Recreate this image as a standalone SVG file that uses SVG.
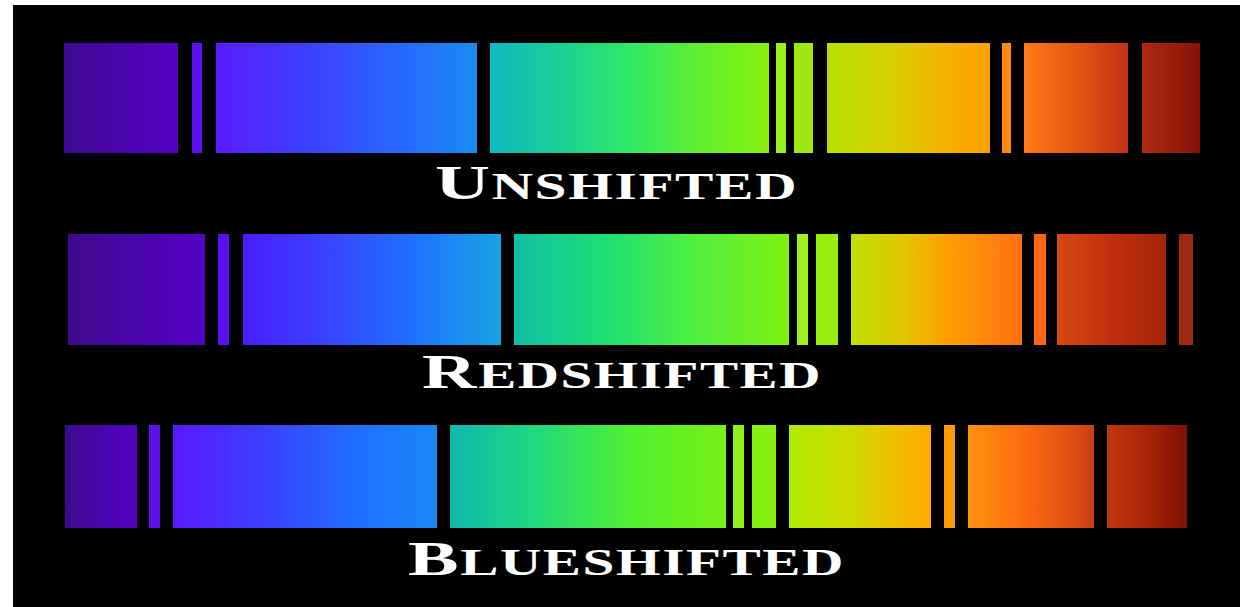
<svg xmlns="http://www.w3.org/2000/svg" width="1240" height="607" viewBox="0 0 1240 607">
<style>
.lbl{font-family:"Liberation Serif","Times New Roman",serif;font-weight:bold;fill:#ffffff;letter-spacing:1px}
.big{font-size:49px}
.sm{font-size:37px}
</style>
<defs>
<linearGradient id="v1"><stop offset="0" stop-color="#3e0a8e"/><stop offset="1" stop-color="#5402c4"/></linearGradient>
<linearGradient id="bl1"><stop offset="0" stop-color="#5a1cff"/><stop offset="0.35" stop-color="#3c40ff"/><stop offset="0.7" stop-color="#2868ff"/><stop offset="1" stop-color="#1a8cf0"/></linearGradient>
<linearGradient id="tg1"><stop offset="0" stop-color="#10b8c0"/><stop offset="0.25" stop-color="#1cd096"/><stop offset="0.5" stop-color="#30e866"/><stop offset="0.75" stop-color="#60f030"/><stop offset="1" stop-color="#8af010"/></linearGradient>
<linearGradient id="yo1"><stop offset="0" stop-color="#b8e000"/><stop offset="0.4" stop-color="#d8d000"/><stop offset="0.75" stop-color="#f4b000"/><stop offset="1" stop-color="#ffa000"/></linearGradient>
<linearGradient id="or1"><stop offset="0" stop-color="#ff7a18"/><stop offset="0.5" stop-color="#e05810"/><stop offset="1" stop-color="#c43018"/></linearGradient>
<linearGradient id="rd1"><stop offset="0" stop-color="#b02a10"/><stop offset="1" stop-color="#841208"/></linearGradient>

<linearGradient id="bl2"><stop offset="0" stop-color="#4a1cff"/><stop offset="0.3" stop-color="#3a40ff"/><stop offset="0.65" stop-color="#2070ff"/><stop offset="1" stop-color="#16a4e4"/></linearGradient>
<linearGradient id="tg2"><stop offset="0" stop-color="#10c0a8"/><stop offset="0.35" stop-color="#20e070"/><stop offset="0.65" stop-color="#50f040"/><stop offset="1" stop-color="#80f010"/></linearGradient>
<linearGradient id="yo2"><stop offset="0" stop-color="#c0e000"/><stop offset="0.3" stop-color="#e0c800"/><stop offset="0.55" stop-color="#ffa000"/><stop offset="0.85" stop-color="#ff8010"/><stop offset="1" stop-color="#ff7010"/></linearGradient>
<linearGradient id="or2"><stop offset="0" stop-color="#d84a10"/><stop offset="0.5" stop-color="#c03010"/><stop offset="1" stop-color="#a42408"/></linearGradient>

<linearGradient id="bl3"><stop offset="0" stop-color="#5a18ff"/><stop offset="0.35" stop-color="#3a40ff"/><stop offset="0.7" stop-color="#2070ff"/><stop offset="1" stop-color="#1a88f5"/></linearGradient>
<linearGradient id="tg3"><stop offset="0" stop-color="#10b8b0"/><stop offset="0.3" stop-color="#20d880"/><stop offset="0.65" stop-color="#50f030"/><stop offset="1" stop-color="#78f018"/></linearGradient>
<linearGradient id="yo3"><stop offset="0" stop-color="#b0e800"/><stop offset="0.45" stop-color="#d0d800"/><stop offset="0.75" stop-color="#f0c000"/><stop offset="1" stop-color="#ffa800"/></linearGradient>
<linearGradient id="or3"><stop offset="0" stop-color="#ff9010"/><stop offset="0.4" stop-color="#ff7010"/><stop offset="0.8" stop-color="#e05010"/><stop offset="1" stop-color="#c84018"/></linearGradient>
<linearGradient id="rd3"><stop offset="0" stop-color="#c03810"/><stop offset="0.6" stop-color="#a02008"/><stop offset="1" stop-color="#801008"/></linearGradient>
</defs>

<rect x="0" y="0" width="1240" height="607" fill="#ffffff"/>
<rect x="13" y="5" width="1227" height="602" fill="#000000"/>

<g id="unshifted">
<rect x="64" y="43" width="114" height="110" fill="url(#v1)"/>
<rect x="192" y="43" width="10" height="110" fill="#5c10f0"/>
<rect x="216" y="43" width="261" height="110" fill="url(#bl1)"/>
<rect x="490" y="43" width="279" height="110" fill="url(#tg1)"/>
<rect x="776" y="43" width="10" height="110" fill="#98f020"/>
<rect x="794" y="43" width="19" height="110" fill="#a0e810"/>
<rect x="827" y="43" width="163" height="110" fill="url(#yo1)"/>
<rect x="1002" y="43" width="9" height="110" fill="#ff8a10"/>
<rect x="1024" y="43" width="104" height="110" fill="url(#or1)"/>
<rect x="1142" y="43" width="58" height="110" fill="url(#rd1)"/>
<text class="lbl" x="435" y="199" textLength="363" lengthAdjust="spacingAndGlyphs"><tspan class="big">U</tspan><tspan class="sm">NSHIFTED</tspan></text>
</g>

<g id="redshifted">
<rect x="68" y="234" width="137" height="111" fill="url(#v1)"/>
<rect x="218" y="234" width="11" height="111" fill="#5a10f0"/>
<rect x="243" y="234" width="258" height="111" fill="url(#bl2)"/>
<rect x="514" y="234" width="275" height="111" fill="url(#tg2)"/>
<rect x="797" y="234" width="11" height="111" fill="#a0f020"/>
<rect x="816" y="234" width="22" height="111" fill="#98f010"/>
<rect x="851" y="234" width="171" height="111" fill="url(#yo2)"/>
<rect x="1034" y="234" width="12" height="111" fill="#ff6810"/>
<rect x="1057" y="234" width="109" height="111" fill="url(#or2)"/>
<rect x="1179" y="234" width="14" height="111" fill="#a02810"/>
<text class="lbl" x="422" y="388" textLength="400" lengthAdjust="spacingAndGlyphs"><tspan class="big">R</tspan><tspan class="sm">EDSHIFTED</tspan></text>
</g>

<g id="blueshifted">
<rect x="65" y="425" width="72" height="103" fill="url(#v1)"/>
<rect x="149" y="425" width="11" height="103" fill="#6010e8"/>
<rect x="173" y="425" width="264" height="103" fill="url(#bl3)"/>
<rect x="450" y="425" width="276" height="103" fill="url(#tg3)"/>
<rect x="733" y="425" width="11" height="103" fill="#90f020"/>
<rect x="752" y="425" width="24" height="103" fill="#88f010"/>
<rect x="789" y="425" width="142" height="103" fill="url(#yo3)"/>
<rect x="944" y="425" width="11" height="103" fill="#ff9a00"/>
<rect x="968" y="425" width="126" height="103" fill="url(#or3)"/>
<rect x="1107" y="425" width="80" height="103" fill="url(#rd3)"/>
<text class="lbl" x="408" y="575" textLength="437" lengthAdjust="spacingAndGlyphs"><tspan class="big">B</tspan><tspan class="sm">LUESHIFTED</tspan></text>
</g>
</svg>
